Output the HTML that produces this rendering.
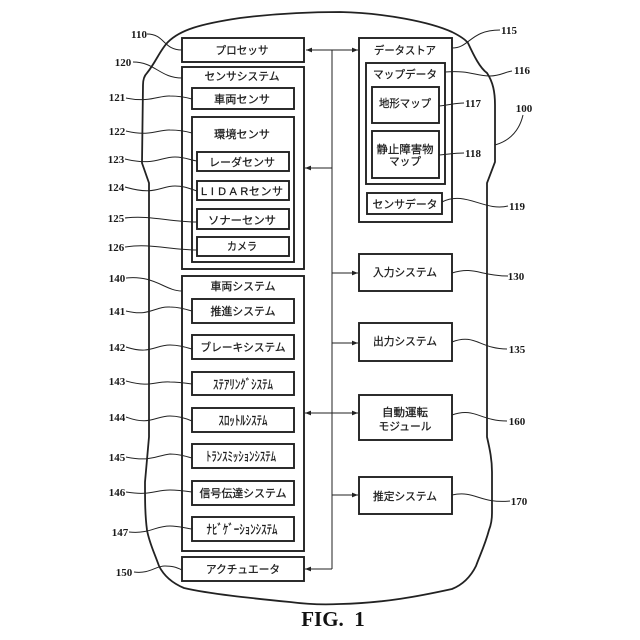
<!DOCTYPE html>
<html><head><meta charset="utf-8"><style>
html,body{margin:0;padding:0;background:#fff}
svg{display:block}
.b{fill:none;stroke:#222;stroke-width:1.9}
.l{fill:none;stroke:#222;stroke-width:1}
.t{font-family:"Liberation Sans","Noto Sans CJK JP",sans-serif;font-size:11px;fill:#1a1a1a;stroke:#1a1a1a;stroke-width:.25;text-anchor:middle}
.k{font-size:13px}
.n{font-family:"Liberation Serif",serif;font-size:11px;font-weight:bold;fill:#1a1a1a;text-anchor:middle}
</style></head><body>
<svg width="640" height="640" viewBox="0 0 640 640" xmlns="http://www.w3.org/2000/svg">
<defs><marker id="a" viewBox="0 0 6 6" refX="6" refY="3" markerWidth="6" markerHeight="6" orient="auto-start-reverse" markerUnits="userSpaceOnUse"><path d="M0 0.6L6 3L0 5.4z" fill="#222"/></marker></defs>
<path d="M143 85C143 78 145 75 147 73C156 62 160 50 168 42C180 30 200 24 240 18C280 13 310 12 340 12C385 13 430 22 452 32C460 36 465 39 468 43C474 56 480 68 487 73C493 82 495 92 495 105L495 162L487 183L487 437C490 450 492 460 492 472L492 513C492 520 491 525 489 530C485 545 480 555 476 566C470 578 462 585 452 589C420 596 385 603 340 604C320 605 305 604 290 602C250 598 210 594 184 588C172 583 164 576 159 566C154 552 149 542 147 530C145 515 145 500 145 482L149 437L149 183L142 163Z" fill="none" stroke="#222" stroke-width="1.8"/>
<g class="b">
<rect x="182" y="38" width="122" height="24"/>
<rect x="182" y="67" width="122" height="202"/>
<rect x="192" y="88" width="102" height="21"/>
<rect x="192" y="117" width="102" height="145"/>
<rect x="197" y="152" width="92" height="19"/>
<rect x="197" y="181" width="92" height="19"/>
<rect x="197" y="209" width="92" height="20"/>
<rect x="197" y="237" width="92" height="19"/>
<rect x="182" y="276" width="122" height="275"/>
<rect x="192" y="299" width="102" height="24"/>
<rect x="192" y="335" width="102" height="24"/>
<rect x="192" y="372" width="102" height="23"/>
<rect x="192" y="408" width="102" height="24"/>
<rect x="192" y="444" width="102" height="24"/>
<rect x="192" y="481" width="102" height="24"/>
<rect x="192" y="517" width="102" height="24"/>
<rect x="182" y="557" width="122" height="24"/>
<rect x="359" y="38" width="93" height="184"/>
<rect x="366" y="63" width="79" height="121"/>
<rect x="372" y="87" width="67" height="36"/>
<rect x="372" y="131" width="67" height="47"/>
<rect x="367" y="193" width="75" height="21"/>
<rect x="359" y="254" width="93" height="37"/>
<rect x="359" y="323" width="93" height="38"/>
<rect x="359" y="395" width="93" height="45"/>
<rect x="359" y="477" width="93" height="37"/>
</g>
<g class="l">
<path d="M332 50V569"/>
<path d="M306 50H358" marker-start="url(#a)" marker-end="url(#a)"/>
<path d="M332 168H305" marker-end="url(#a)"/>
<path d="M332 273H358" marker-end="url(#a)"/>
<path d="M332 343H358" marker-end="url(#a)"/>
<path d="M305 413H358" marker-start="url(#a)" marker-end="url(#a)"/>
<path d="M332 495H358" marker-end="url(#a)"/>
<path d="M332 569H305" marker-end="url(#a)"/>
<path d="M147 34C165 34 163 50 182 50"/>
<path d="M133 62C155 62 160 78 182 78"/>
<path d="M126 98C150 103 160 95 170 96C178 96 185 97 192 99"/>
<path d="M126 131C150 137 160 129 170 130C178 130 185 131 192 133"/>
<path d="M125 159C155 166 160 157 175 157C185 157 190 160 197 161"/>
<path d="M125 187C155 196 160 186 175 186C185 186 190 189 197 191"/>
<path d="M125 218C150 215 170 222 197 222"/>
<path d="M125 247C150 243 170 250 197 250"/>
<path d="M126 278C155 275 165 291 182 291"/>
<path d="M126 311C150 317 155 306 170 307C178 307 185 309 192 311"/>
<path d="M126 347C150 355 155 345 170 345C178 345 185 347 192 349"/>
<path d="M126 381C150 388 155 381 170 382C178 382 185 383 192 384"/>
<path d="M126 417C150 426 155 416 170 416C178 416 185 418 192 421"/>
<path d="M126 457C150 462 155 456 170 454C178 454 185 456 192 458"/>
<path d="M126 492C150 496 155 490 170 490C178 490 185 491 192 492"/>
<path d="M129 532C150 534 155 526 170 526C178 526 185 528 192 529"/>
<path d="M134 572C150 574 155 566 165 566C172 566 176 567 182 570"/>
<path d="M452 48C470 48 470 30 500 30"/>
<path d="M445 72C470 70 475 76 490 76C500 76 505 72 512 71"/>
<path d="M439 106C450 105 455 103 464 103"/>
<path d="M439 155C450 154 455 153 464 153"/>
<path d="M442 202C465 190 485 212 508 206"/>
<path d="M452 273C475 266 480 276 508 276"/>
<path d="M452 342C475 333 480 349 507 349"/>
<path d="M452 415C475 407 480 421 507 421"/>
<path d="M452 495C475 490 480 504 510 501"/>
<path d="M495 145C512 140 520 128 523 115"/>
</g>
<g class="t">
<text x="242" y="54" textLength="53" lengthAdjust="spacingAndGlyphs">プロセッサ</text>
<text x="242" y="80" textLength="75" lengthAdjust="spacingAndGlyphs">センサシステム</text>
<text x="242" y="103" textLength="56" lengthAdjust="spacingAndGlyphs">車両センサ</text>
<text x="242" y="138" textLength="56" lengthAdjust="spacingAndGlyphs">環境センサ</text>
<text x="242" y="166" textLength="66" lengthAdjust="spacingAndGlyphs">レーダセンサ</text>
<text x="242" y="195" textLength="82">L I D A Rセンサ</text>
<text x="242" y="224" textLength="68" lengthAdjust="spacingAndGlyphs">ソナーセンサ</text>
<text x="242" y="250" textLength="30" lengthAdjust="spacingAndGlyphs">カメラ</text>
<text x="243" y="290" textLength="65" lengthAdjust="spacingAndGlyphs">車両システム</text>
<text x="243" y="315" textLength="65" lengthAdjust="spacingAndGlyphs">推進システム</text>
<text x="243" y="351" textLength="85" lengthAdjust="spacingAndGlyphs">ブレーキシステム</text>
<text class="k" x="243" y="389" textLength="60" lengthAdjust="spacingAndGlyphs">ｽﾃｱﾘﾝｸﾞｼｽﾃﾑ</text>
<text class="k" x="243" y="425" textLength="49" lengthAdjust="spacingAndGlyphs">ｽﾛｯﾄﾙｼｽﾃﾑ</text>
<text class="k" x="241" y="461" textLength="70" lengthAdjust="spacingAndGlyphs">ﾄﾗﾝｽﾐｯｼｮﾝｼｽﾃﾑ</text>
<text x="243" y="497" textLength="87" lengthAdjust="spacingAndGlyphs">信号伝達システム</text>
<text class="k" x="242" y="534" textLength="71" lengthAdjust="spacingAndGlyphs">ﾅﾋﾞｹﾞｰｼｮﾝｼｽﾃﾑ</text>
<text x="243" y="573" textLength="74" lengthAdjust="spacingAndGlyphs">アクチュエータ</text>
<text x="405" y="54" textLength="62" lengthAdjust="spacingAndGlyphs">データストア</text>
<text x="405" y="78" textLength="64" lengthAdjust="spacingAndGlyphs">マップデータ</text>
<text x="405" y="107" textLength="52" lengthAdjust="spacingAndGlyphs">地形マップ</text>
<text x="405" y="153" textLength="57" lengthAdjust="spacingAndGlyphs">静止障害物</text>
<text x="405" y="165" textLength="32" lengthAdjust="spacingAndGlyphs">マップ</text>
<text x="405" y="208" textLength="65" lengthAdjust="spacingAndGlyphs">センサデータ</text>
<text x="405" y="276" textLength="64" lengthAdjust="spacingAndGlyphs">入力システム</text>
<text x="405" y="345" textLength="64" lengthAdjust="spacingAndGlyphs">出力システム</text>
<text x="405" y="416" textLength="46" lengthAdjust="spacingAndGlyphs">自動運転</text>
<text x="405" y="430" textLength="53" lengthAdjust="spacingAndGlyphs">モジュール</text>
<text x="405" y="500" textLength="64" lengthAdjust="spacingAndGlyphs">推定システム</text>
</g>
<g class="n">
<text x="139" y="38">110</text>
<text x="123" y="66">120</text>
<text x="117" y="101">121</text>
<text x="117" y="135">122</text>
<text x="116" y="163">123</text>
<text x="116" y="191">124</text>
<text x="116" y="222">125</text>
<text x="116" y="251">126</text>
<text x="117" y="282">140</text>
<text x="117" y="315">141</text>
<text x="117" y="351">142</text>
<text x="117" y="385">143</text>
<text x="117" y="421">144</text>
<text x="117" y="461">145</text>
<text x="117" y="496">146</text>
<text x="120" y="536">147</text>
<text x="124" y="576">150</text>
<text x="509" y="34">115</text>
<text x="522" y="74">116</text>
<text x="473" y="107">117</text>
<text x="473" y="157">118</text>
<text x="517" y="210">119</text>
<text x="516" y="280">130</text>
<text x="517" y="353">135</text>
<text x="517" y="425">160</text>
<text x="519" y="505">170</text>
<text x="524" y="112">100</text>
</g>
<text x="333" y="626" font-family="Liberation Serif,serif" font-weight="bold" font-size="21" fill="#111" text-anchor="middle" xml:space="preserve">FIG.  1</text>
</svg>
</body></html>
